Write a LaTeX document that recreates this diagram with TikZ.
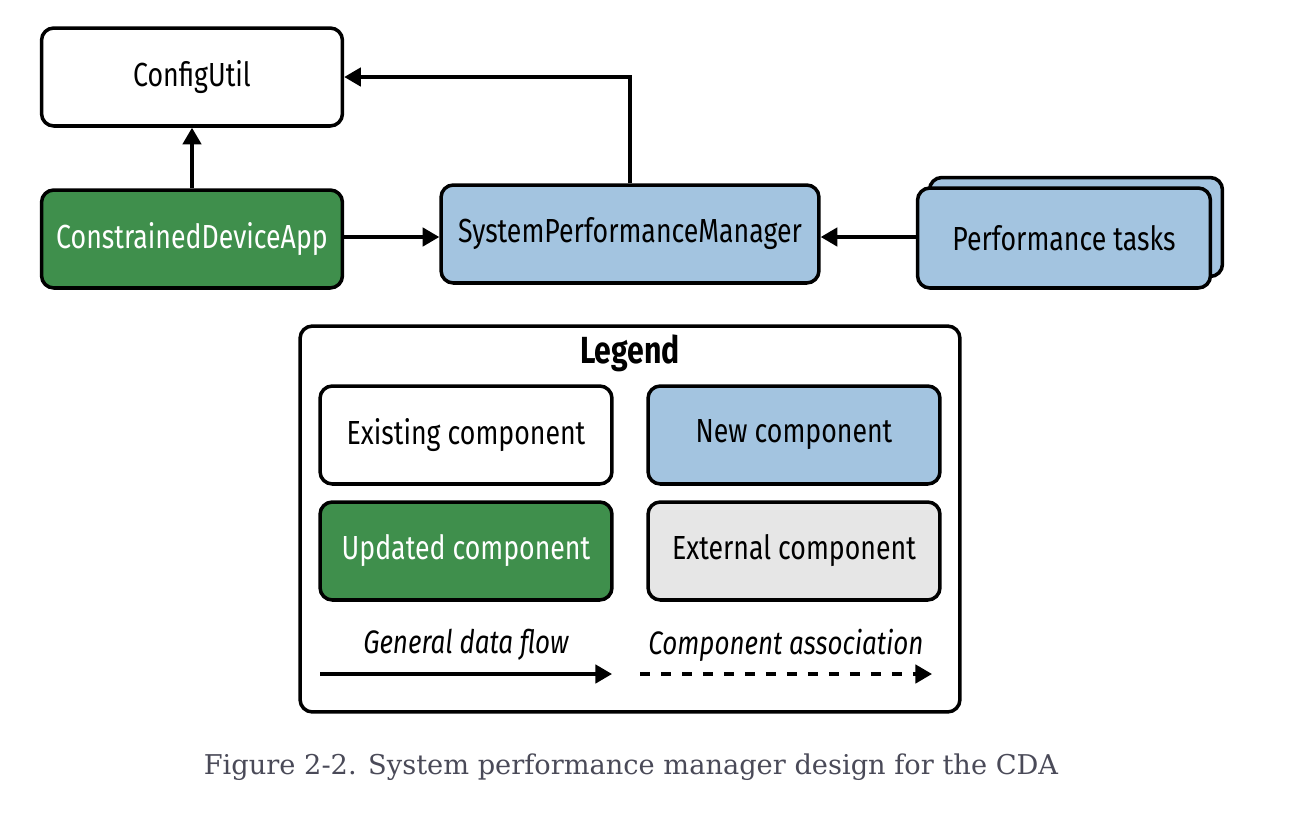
\documentclass[tikz,border=0pt]{standalone}
\usepackage{fontspec}
\setmainfont{DejaVu Serif}
\setsansfont[FakeStretch=0.8]{Fira Sans}
\usetikzlibrary{arrows.meta}

\definecolor{newblue}{HTML}{A3C4E0}
\definecolor{updgreen}{HTML}{3F8F4C}
\definecolor{extgray}{HTML}{E6E6E6}
\definecolor{capgray}{HTML}{4A4A58}

\begin{document}
\begin{tikzpicture}[x=0.02cm, y=-0.02cm,
  line/.style={-{Triangle[length=9.5pt,width=10.5pt]}, line width=2pt},
  box/.style={draw, line width=2pt, rounded corners=7pt, inner sep=0pt,
    minimum width=6.02cm, minimum height=1.96cm,
    font=\sffamily\fontsize{19}{21}\selectfont},
  legtext/.style={font=\sffamily\itshape\fontsize{18.5}{21}\selectfont}]
\useasboundingbox (0,0) rectangle (1298,832);

\node[box, fill=white] (config) at (192,77) {ConfigUtil};
\node[box, fill=updgreen, text=white] (cda) at (192,239) {ConstrainedDeviceApp};
\node[box, fill=newblue, minimum width=7.56cm] (spm) at (630,234) {SystemPerformanceManager};
\node[box, fill=newblue, minimum width=5.86cm, minimum height=1.98cm] (tasksback) at (1076,227) {};
\node[box, fill=newblue, minimum width=5.86cm, minimum height=2cm] (tasks) at (1064,238) {Performance tasks};

\draw[line] (cda) -- (config);
\draw[line] (spm.north) |- (config.east);
\draw[line] (cda.east |- 0,237) -- (spm.west |- 0,237);
\draw[line] (tasks.west |- 0,237) -- (spm.east |- 0,237);

% legend
\node[draw, line width=2pt, rounded corners=7pt, minimum width=13.2cm, minimum height=7.72cm] (legend) at (630,519) {};
\node[font=\sffamily\bfseries\fontsize{21.5}{24}\selectfont] (legtitle) at (630,353) {Legend};
\node[box, fill=white, minimum width=5.84cm] (existing) at (466,435) {Existing component};
\node[box, fill=newblue, minimum width=5.84cm] (new) at (794,435) {New component};
\node[box, fill=updgreen, text=white, minimum width=5.84cm] (updated) at (466,551) {Updated component};
\node[box, fill=extgray, minimum width=5.84cm] (external) at (794,551) {External component};

\node[legtext] (flow) at (466,645) {General data flow};
\node[legtext] (assoc) at (786,645) {Component association};
\coordinate (flowa) at (320,674);
\coordinate (flowb) at (612,674);
\coordinate (assoca) at (640,674);
\coordinate (assocb) at (932,674);
\draw[line] (flowa) -- (flowb);
\draw[line, dash pattern=on 0.2cm off 0.22cm] (assoca) -- (assocb);

\node[text=capgray, font=\fontsize{15.5}{18}\selectfont] (caption) at (631,767) {Figure 2-2. System performance manager design for the CDA};
\end{tikzpicture}
\end{document}
